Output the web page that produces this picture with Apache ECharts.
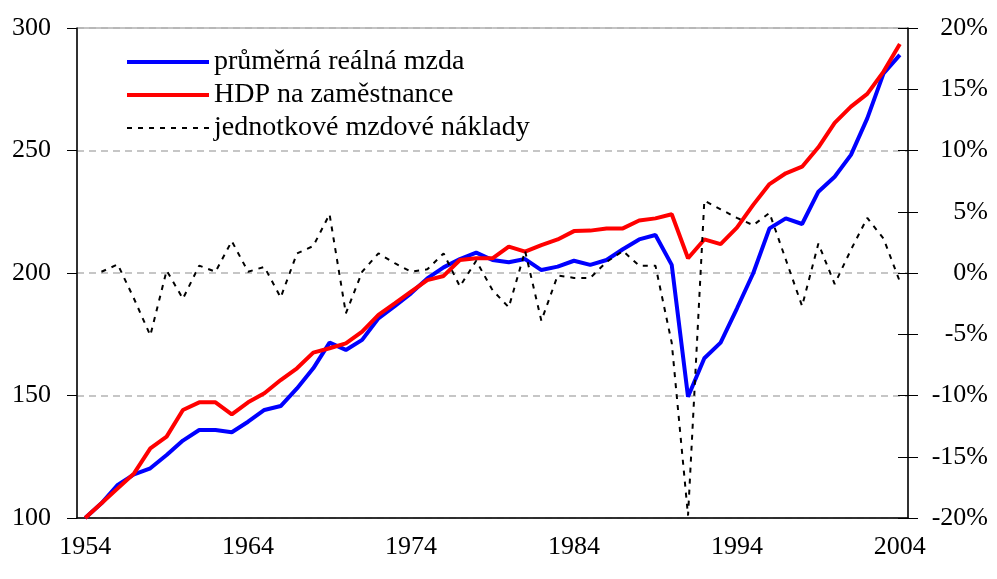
<!DOCTYPE html>
<html>
<head>
<meta charset="utf-8">
<script src="https://cdn.jsdelivr.net/npm/echarts@6/dist/echarts.min.js"></script>
<style>
  html, body { margin: 0; padding: 0; background: #fff; }
  #chart { width: 997px; height: 579px; }
</style>
</head>
<body>
<div id="chart"></div>
<script>
var years = []
for (var y = 1954; y <= 2004; y++) years.push(String(y))

// index 1954 = 100
var realWage = [100, 106, 113.5, 117.8, 120.3, 125.7, 131.6, 135.9, 135.9, 135.0,
  139.3, 144.1, 145.7, 152.9, 161.1, 171.6, 168.6, 172.7, 181.5, 186.5,
  191.7, 197.8, 202.3, 205.7, 208.3, 205.3, 204.4, 205.7, 201.2, 202.6,
  205.0, 203.3, 205.3, 209.7, 213.7, 215.5, 203.3, 149.5, 165.2, 171.6,
  185.5, 199.9, 218.2, 222.3, 220.0, 233.2, 239.3, 248.2, 263.1, 281.5,
  289.0]

var gdpPerEmployee = [100, 106, 112.1, 118.2, 128.4, 133.2, 144.1, 147.2, 147.2, 142.3,
  147.2, 150.9, 156.3, 161.1, 167.5, 169.3, 171.3, 176.1, 182.9, 187.6,
  192.4, 197.1, 198.8, 205.3, 206.0, 206.0, 210.8, 208.7, 211.4, 213.7,
  217.1, 217.3, 218.2, 218.2, 221.4, 222.3, 224.0, 206.0, 213.7, 211.8,
  218.5, 227.8, 236.3, 240.7, 243.4, 251.3, 261.3, 267.9, 273.1, 282.2,
  293.5]

// annual change in %, right axis
var unitLaborCost = [null, 0.1, 0.7, -2.1, -5.1, 0.2, -2.1, 0.6, 0.1, 2.6,
  0.1, 0.5, -2.0, 1.6, 2.2, 4.8, -3.3, 0.1, 1.6, 0.8,
  0.1, 0.3, 1.6, -1.1, 1.0, -1.4, -2.8, 1.8, -3.9, -0.2,
  -0.4, -0.4, 0.9, 1.8, 0.6, 0.6, -5.7, -19.8, 5.9, 5.2,
  4.5, 3.9, 4.9, 1.1, -2.7, 2.4, -0.9, 1.9, 4.5, 2.8,
  -0.7]

var font = 'Liberation Serif'
var chart = echarts.init(document.getElementById('chart'))

chart.setOption({
  animation: false,
  grid: {
    left: 77,
    right: 89,
    top: 28,
    bottom: 61,
    show: true,
    borderColor: '#888',
    borderWidth: 1
  },
  legend: {
    orient: 'vertical',
    left: 125,
    top: 48,
    padding: 0,
    itemWidth: 82,
    itemHeight: 4,
    itemGap: 5,
    itemStyle: { opacity: 0 },
    textStyle: { fontFamily: font, fontSize: 28, color: '#000', lineHeight: 28 },
    data: [
      { name: 'průměrná reálná mzda', lineStyle: { width: 4 } },
      { name: 'HDP na zaměstnance', lineStyle: { width: 4 } },
      { name: 'jednotkové mzdové náklady', lineStyle: { width: 2 } }
    ]
  },
  xAxis: {
    type: 'category',
    data: years,
    boundaryGap: true,
    axisLine: { onZero: false, lineStyle: { color: '#000', width: 1.5 } },
    axisTick: { interval: 4, length: 10, lineStyle: { color: '#000' } },
    axisLabel: { interval: 9, margin: 16, fontFamily: font, fontSize: 26, color: '#000' }
  },
  yAxis: [
    {
      type: 'value',
      min: 100,
      max: 300,
      interval: 50,
      axisLine: { show: true, lineStyle: { color: '#000', width: 1.5 } },
      axisTick: { show: true, length: 10, lineStyle: { color: '#000' } },
      axisLabel: { margin: 26, fontFamily: font, fontSize: 26, color: '#000' },
      splitLine: { lineStyle: { color: '#b4b4b4', width: 1.5, type: [7, 5] } }
    },
    {
      type: 'value',
      position: 'right',
      min: -20,
      max: 20,
      interval: 5,
      axisLine: { show: true, lineStyle: { color: '#000', width: 1.5 } },
      axisTick: { show: true, length: 10, lineStyle: { color: '#000' } },
      axisLabel: {
        formatter: '{value}%',
        align: 'right',
        margin: 80,
        fontFamily: font,
        fontSize: 26,
        color: '#000'
      },
      splitLine: { show: false }
    },
    {
      // inner half of the crossing ticks on the right axis
      type: 'value',
      position: 'right',
      min: -20,
      max: 20,
      interval: 5,
      axisLine: { show: false },
      axisTick: { show: true, inside: true, length: 10, lineStyle: { color: '#000' } },
      axisLabel: { show: false },
      splitLine: { show: false }
    }
  ],
  series: [
    {
      name: 'průměrná reálná mzda',
      type: 'line',
      data: realWage,
      symbol: 'none',
      lineStyle: { color: '#0000ff', width: 4 },
      itemStyle: { color: '#0000ff' }
    },
    {
      name: 'HDP na zaměstnance',
      type: 'line',
      data: gdpPerEmployee,
      symbol: 'none',
      lineStyle: { color: '#ff0000', width: 4 },
      itemStyle: { color: '#ff0000' }
    },
    {
      name: 'jednotkové mzdové náklady',
      type: 'line',
      yAxisIndex: 1,
      data: unitLaborCost,
      symbol: 'none',
      lineStyle: { color: '#000', width: 2, type: [5, 6] },
      itemStyle: { color: '#000' }
    }
  ]
})
</script>
</body>
</html>
